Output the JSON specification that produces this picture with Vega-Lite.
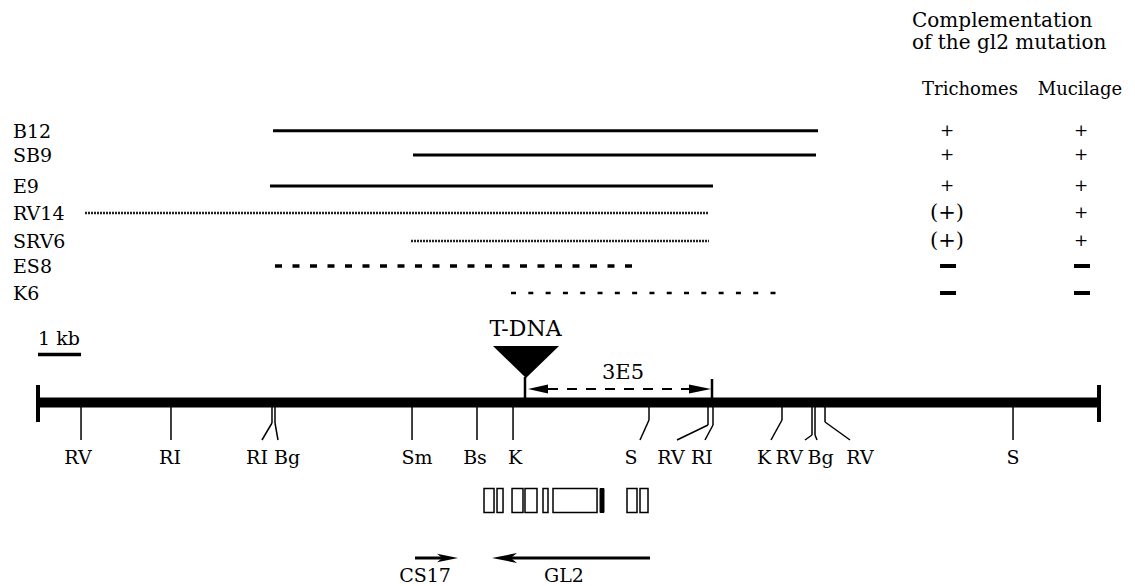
{
  "$schema": "https://vega.github.io/schema/vega-lite/v6.json",
  "width": 1135,
  "height": 586,
  "autosize": {"type": "fit", "contains": "padding"},
  "padding": 0,
  "background": "white",
  "config": {
    "view": {"stroke": null},
    "text": {"font": "DejaVu Serif", "color": "black"}
  },
  "datasets": {
    "clones": [
      {"name": "B12", "kb": 5.402, "kb2": 17.931, "track": 13.07, "style": "solid", "tri": "+", "muc": "+"},
      {"name": "SB9", "kb": 8.621, "kb2": 17.885, "track": 15.5, "style": "solid", "tri": "+", "muc": "+"},
      {"name": "E9", "kb": 5.333, "kb2": 15.517, "track": 18.6, "style": "solid", "tri": "+", "muc": "+"},
      {"name": "RV14", "kb": 1.08, "kb2": 15.425, "track": 21.3, "style": "wavy", "tri": "(+)", "muc": "+"},
      {"name": "SRV6", "kb": 8.575, "kb2": 15.425, "track": 24.1, "style": "wavy", "tri": "(+)", "muc": "+"},
      {"name": "ES8", "kb": 5.448, "kb2": 13.885, "track": 26.6, "style": "dashed", "tri": "-", "muc": "-"},
      {"name": "K6", "kb": 10.874, "kb2": 17.08, "track": 29.3, "style": "dotted", "tri": "-", "muc": "-"}
    ],
    "sites": [
      {"label": "RV", "kb": 0.989, "bend": 44.0, "end": 0.989, "lab": 0.92, "labtrack": 46.4},
      {"label": "RI", "kb": 3.057, "bend": 44.0, "end": 3.057, "lab": 3.034, "labtrack": 46.4},
      {"label": "RI", "kb": 5.379, "bend": 42.3, "end": 5.149, "lab": 5.034, "labtrack": 46.4},
      {"label": "Bg", "kb": 5.448, "bend": 42.3, "end": 5.517, "lab": 5.724, "labtrack": 46.4},
      {"label": "Sm", "kb": 8.598, "bend": 44.0, "end": 8.598, "lab": 8.713, "labtrack": 46.4},
      {"label": "Bs", "kb": 10.092, "bend": 44.0, "end": 10.092, "lab": 10.046, "labtrack": 46.4},
      {"label": "K", "kb": 10.92, "bend": 44.0, "end": 10.92, "lab": 10.966, "labtrack": 46.4},
      {"label": "S", "kb": 14.046, "bend": 42.0, "end": 13.839, "lab": 13.632, "labtrack": 46.4},
      {"label": "RV", "kb": 15.402, "bend": 42.5, "end": 14.69, "lab": 14.55, "labtrack": 46.4},
      {"label": "RI", "kb": 15.517, "bend": 42.5, "end": 15.333, "lab": 15.26, "labtrack": 46.4},
      {"label": "K", "kb": 17.103, "bend": 42.0, "end": 16.851, "lab": 16.69, "labtrack": 46.4},
      {"label": "RV", "kb": 17.793, "bend": 43.5, "end": 17.632, "lab": 17.27, "labtrack": 46.4},
      {"label": "Bg", "kb": 17.862, "bend": 43.5, "end": 17.908, "lab": 17.99, "labtrack": 46.4},
      {"label": "RV", "kb": 18.092, "bend": 42.2, "end": 18.667, "lab": 18.897, "labtrack": 46.4},
      {"label": "S", "kb": 22.414, "bend": 44.0, "end": 22.414, "lab": 22.414, "labtrack": 46.4}
    ],
    "exons": [
      {"kb": 10.253, "kb2": 10.483, "track": 48.85, "track2": 51.25, "kind": "open"},
      {"kb": 10.552, "kb2": 10.69, "track": 48.85, "track2": 51.25, "kind": "open"},
      {"kb": 10.897, "kb2": 11.149, "track": 48.85, "track2": 51.25, "kind": "open"},
      {"kb": 11.195, "kb2": 11.471, "track": 48.85, "track2": 51.25, "kind": "open"},
      {"kb": 11.609, "kb2": 11.724, "track": 48.85, "track2": 51.25, "kind": "open"},
      {"kb": 11.839, "kb2": 12.851, "track": 48.85, "track2": 51.25, "kind": "open"},
      {"kb": 12.92, "kb2": 13.011, "track": 48.85, "track2": 51.25, "kind": "solid"},
      {"kb": 13.54, "kb2": 13.77, "track": 48.85, "track2": 51.25, "kind": "open"},
      {"kb": 13.839, "kb2": 14.023, "track": 48.85, "track2": 51.25, "kind": "open"}
    ]
  },
  "encoding": {
    "x": {"field": "kb", "type": "quantitative", "scale": {"domain": [-0.8736, 25.218], "nice": false, "zero": false}, "axis": null},
    "y": {"field": "track", "type": "quantitative", "scale": {"domain": [0, 58.6], "reverse": true, "nice": false, "zero": false}, "axis": null}
  },
  "layer": [
    {
      "data": {"name": "clones"},
      "transform": [{"filter": "datum.style === 'solid'"}],
      "mark": {"type": "rule", "strokeWidth": 3, "color": "black"},
      "encoding": {"x2": {"field": "kb2"}}
    },
    {
      "data": {"name": "clones"},
      "transform": [{"filter": "datum.style === 'wavy'"}],
      "mark": {"type": "rule", "strokeWidth": 2.5, "color": "#222222", "strokeDash": [2, 1]},
      "encoding": {"x2": {"field": "kb2"}}
    },
    {
      "data": {"name": "clones"},
      "transform": [{"filter": "datum.style === 'dashed'"}],
      "mark": {"type": "rule", "strokeWidth": 3.5, "color": "black", "strokeDash": [7, 10.5]},
      "encoding": {"x2": {"field": "kb2"}}
    },
    {
      "data": {"name": "clones"},
      "transform": [{"filter": "datum.style === 'dotted'"}],
      "mark": {"type": "rule", "strokeWidth": 2.5, "color": "black", "strokeDash": [5, 12.3]},
      "encoding": {"x2": {"field": "kb2"}}
    },
    {
      "data": {"name": "clones"},
      "mark": {"type": "text", "align": "left", "baseline": "alphabetic", "dy": 7, "fontSize": 19},
      "encoding": {"x": {"datum": -0.575, "type": "quantitative"}, "text": {"field": "name"}}
    },
    {
      "data": {"name": "clones"},
      "transform": [{"filter": "datum.tri === '+'"}],
      "mark": {"type": "text", "align": "center", "baseline": "middle", "fontSize": 17},
      "encoding": {"x": {"datum": 20.897, "type": "quantitative"}, "text": {"field": "tri"}}
    },
    {
      "data": {"name": "clones"},
      "transform": [{"filter": "datum.tri === '(+)'"}],
      "mark": {"type": "text", "align": "center", "baseline": "middle", "fontSize": 21},
      "encoding": {"x": {"datum": 20.897, "type": "quantitative"}, "text": {"field": "tri"}}
    },
    {
      "data": {"name": "clones"},
      "transform": [{"filter": "datum.muc === '+'"}],
      "mark": {"type": "text", "align": "center", "baseline": "middle", "fontSize": 17},
      "encoding": {"x": {"datum": 23.977, "type": "quantitative"}, "text": {"field": "muc"}}
    },
    {
      "data": {"name": "clones"},
      "transform": [{"filter": "datum.tri === '-'"}],
      "mark": {"type": "point", "filled": true, "color": "black", "opacity": 1, "strokeWidth": 0, "size": 256, "shape": "M -1 -0.25 L 1 -0.25 L 1 0.25 L -1 0.25 Z"},
      "encoding": {"x": {"datum": 20.92, "type": "quantitative"}}
    },
    {
      "data": {"name": "clones"},
      "transform": [{"filter": "datum.muc === '-'"}],
      "mark": {"type": "point", "filled": true, "color": "black", "opacity": 1, "strokeWidth": 0, "size": 256, "shape": "M -1 -0.25 L 1 -0.25 L 1 0.25 L -1 0.25 Z"},
      "encoding": {"x": {"datum": 24.0, "type": "quantitative"}}
    },
    {
      "data": {"values": [{"kb": 0, "kb2": 24.391, "track": 40.25}]},
      "mark": {"type": "rule", "strokeWidth": 10, "color": "black", "strokeCap": "butt"},
      "encoding": {"x2": {"field": "kb2"}}
    },
    {
      "data": {"values": [{"kb": 0, "track": 38.5, "track2": 42.2}, {"kb": 24.391, "track": 38.5, "track2": 42.2}]},
      "mark": {"type": "rule", "strokeWidth": 4, "color": "black"},
      "encoding": {"y2": {"field": "track2"}}
    },
    {
      "data": {"values": [{"kb": 0, "kb2": 0.989, "track": 35.45}]},
      "mark": {"type": "rule", "strokeWidth": 3.5, "color": "black", "strokeCap": "butt"},
      "encoding": {"x2": {"field": "kb2"}}
    },
    {
      "data": {"name": "sites"},
      "mark": {"type": "rule", "strokeWidth": 1.5, "color": "black"},
      "encoding": {"y": {"field": "bend", "type": "quantitative"}, "y2": {"datum": 40.6}}
    },
    {
      "data": {"name": "sites"},
      "mark": {"type": "rule", "strokeWidth": 1.5, "color": "black"},
      "encoding": {"y": {"field": "bend", "type": "quantitative"}, "x2": {"field": "end"}, "y2": {"datum": 44.0}}
    },
    {
      "data": {"name": "sites"},
      "mark": {"type": "text", "align": "center", "baseline": "alphabetic", "fontSize": 19},
      "encoding": {"x": {"field": "lab", "type": "quantitative"}, "y": {"field": "labtrack", "type": "quantitative"}, "text": {"field": "label"}}
    },
    {
      "data": {"values": [{"kb": 11.218, "track": 36.2}]},
      "mark": {"type": "point", "filled": true, "color": "black", "opacity": 1, "strokeWidth": 0, "size": 4356, "shape": "M -1 -0.485 L 1 -0.485 L 0 0.485 Z"}
    },
    {
      "data": {"values": [{"kb": 11.195, "track": 37.7, "track2": 39.8}, {"kb": 15.494, "track": 37.9, "track2": 39.8}]},
      "mark": {"type": "rule", "strokeWidth": 2.5, "color": "black"},
      "encoding": {"y2": {"field": "track2"}}
    },
    {
      "data": {"values": [{"kb": 11.724, "kb2": 14.966, "track": 38.9}]},
      "mark": {"type": "rule", "strokeWidth": 2, "color": "black", "strokeDash": [10, 9]},
      "encoding": {"x2": {"field": "kb2"}}
    },
    {
      "data": {"values": [{"kb": 11.494, "track": 38.9}]},
      "mark": {"type": "point", "filled": true, "color": "black", "opacity": 1, "strokeWidth": 0, "size": 400, "shape": "M -1 0 L 1 -0.45 L 1 0.45 Z"}
    },
    {
      "data": {"values": [{"kb": 15.218, "track": 38.9}]},
      "mark": {"type": "point", "filled": true, "color": "black", "opacity": 1, "strokeWidth": 0, "size": 484, "shape": "M 1 0 L -1 -0.42 L -1 0.42 Z"}
    },
    {
      "data": {"name": "exons"},
      "transform": [{"filter": "datum.kind === 'open'"}],
      "mark": {"type": "rect", "fill": "white", "stroke": "black", "strokeWidth": 1.5},
      "encoding": {"x2": {"field": "kb2"}, "y2": {"field": "track2"}}
    },
    {
      "data": {"name": "exons"},
      "transform": [{"filter": "datum.kind === 'solid'"}],
      "mark": {"type": "rect", "fill": "black", "stroke": "black", "strokeWidth": 1},
      "encoding": {"x2": {"field": "kb2"}, "y2": {"field": "track2"}}
    },
    {
      "data": {"values": [{"kb": 8.667, "kb2": 9.35, "track": 55.8}, {"kb": 10.78, "kb2": 14.069, "track": 55.8}]},
      "mark": {"type": "rule", "strokeWidth": 3, "color": "black"},
      "encoding": {"x2": {"field": "kb2"}}
    },
    {
      "data": {"values": [{"kb": 9.414, "track": 55.8}]},
      "mark": {"type": "point", "filled": true, "color": "black", "opacity": 1, "strokeWidth": 0, "size": 441, "shape": "M 1 0 L -1 -0.4 L -0.5 0 L -1 0.4 Z"}
    },
    {
      "data": {"values": [{"kb": 10.724, "track": 55.8}]},
      "mark": {"type": "point", "filled": true, "color": "black", "opacity": 1, "strokeWidth": 0, "size": 625, "shape": "M -1 0 L 1 -0.4 L 0.5 0 L 1 0.4 Z"}
    },
    {
      "data": {"values": [
        {"label": "1 kb", "kb": 0.483, "track": 34.5},
        {"label": "CS17", "kb": 8.897, "track": 58.2},
        {"label": "GL2", "kb": 12.092, "track": 58.2}
      ]},
      "mark": {"type": "text", "align": "center", "baseline": "alphabetic", "fontSize": 19},
      "encoding": {"text": {"field": "label"}}
    },
    {
      "data": {"values": [{"label": "T-DNA", "kb": 11.207, "track": 33.6}]},
      "mark": {"type": "text", "align": "center", "baseline": "alphabetic", "fontSize": 22},
      "encoding": {"text": {"field": "label"}}
    },
    {
      "data": {"values": [{"label": "3E5", "kb": 13.448, "track": 37.9}]},
      "mark": {"type": "text", "align": "center", "baseline": "alphabetic", "fontSize": 21},
      "encoding": {"text": {"field": "label"}}
    },
    {
      "data": {"values": [
        {"label": "Complementation", "kb": 20.092, "track": 2.65},
        {"label": "of the gl2 mutation", "kb": 20.092, "track": 4.93}
      ]},
      "mark": {"type": "text", "align": "left", "baseline": "alphabetic", "fontSize": 20},
      "encoding": {"text": {"field": "label"}}
    },
    {
      "data": {"values": [
        {"label": "Trichomes", "kb": 21.425, "track": 9.5},
        {"label": "Mucilage", "kb": 23.954, "track": 9.5}
      ]},
      "mark": {"type": "text", "align": "center", "baseline": "alphabetic", "fontSize": 18},
      "encoding": {"text": {"field": "label"}}
    }
  ]
}
